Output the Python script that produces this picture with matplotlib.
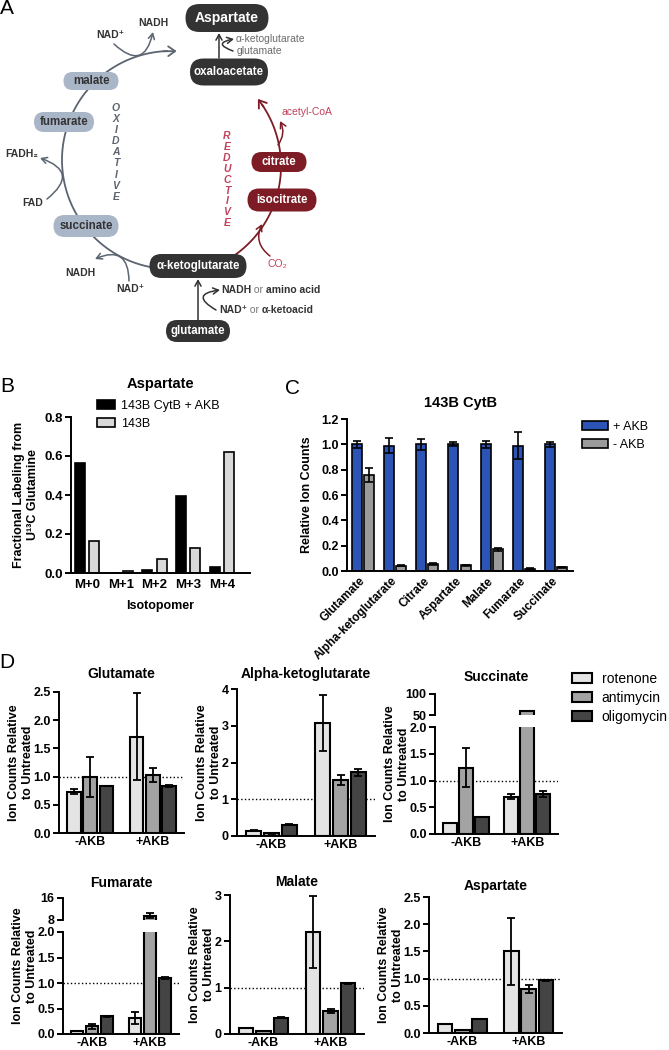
import numpy as np
import matplotlib
matplotlib.use('Agg')
import matplotlib.pyplot as plt
from matplotlib.patches import FancyBboxPatch
from matplotlib.offsetbox import TextArea, HPacker, AnnotationBbox

plt.rcParams['font.family'] = ['Liberation Sans', 'DejaVu Sans']
plt.rcParams['font.weight'] = 'bold'
plt.rcParams['axes.titleweight'] = 'bold'
plt.rcParams['axes.labelweight'] = 'bold'

W, H = 669, 1050

# ---------------- data ----------------
# B: aspartate isotopomers
b_isotopomers = ['M+0', 'M+1', 'M+2', 'M+3', 'M+4']
b_cytb_akb = [0.565, 0.002, 0.015, 0.395, 0.03]
b_143b = [0.165, 0.012, 0.073, 0.13, 0.622]

# C: 143B CytB relative ion counts
c_metabolites = ['Glutamate', 'Alpha-ketoglutarate', 'Citrate', 'Aspartate',
                 'Malate', 'Fumarate', 'Succinate']
c_plus_akb = [1.00, 0.99, 1.00, 1.00, 1.00, 0.99, 1.00]
c_plus_err = [0.03, 0.06, 0.045, 0.015, 0.03, 0.105, 0.02]
c_minus_akb = [0.76, 0.04, 0.055, 0.045, 0.17, 0.018, 0.028]
c_minus_err = [0.055, 0.004, 0.005, 0.005, 0.01, 0.003, 0.003]

# D: rows = rotenone, antimycin, oligomycin ; cols = -AKB, +AKB
d_conditions = ['-AKB', '+AKB']
d_treatments = ['rotenone', 'antimycin', 'oligomycin']
glu_mean = [[0.73, 1.71], [0.99, 1.03], [0.84, 0.83]]
glu_err = [[0.045, 0.77], [0.36, 0.13], [0.0, 0.02]]
akg_mean = [[0.14, 3.07], [0.07, 1.52], [0.31, 1.73]]
akg_err = [[0.01, 0.77], [0.01, 0.14], [0.01, 0.09]]
suc_mean = [[0.21, 0.70], [1.24, 60.0], [0.31, 0.75]]
suc_err = [[0.0, 0.05], [0.37, 0.0], [0.0, 0.05]]
fum_mean = [[0.06, 0.32], [0.15, 9.5], [0.35, 1.10]]
fum_err = [[0.0, 0.12], [0.05, 0.9], [0.01, 0.02]]
mal_mean = [[0.13, 2.20], [0.07, 0.50], [0.35, 1.09]]
mal_err = [[0.0, 0.78], [0.0, 0.05], [0.01, 0.02]]
asp_mean = [[0.16, 1.50], [0.05, 0.81], [0.25, 0.97]]
asp_err = [[0.0, 0.61], [0.0, 0.07], [0.0, 0.01]]

# ---------------- style ----------------
DARK = '#333333'
LIGHT = '#a9b6c7'
RED = '#7d1c24'
PINK = '#c2415b'
SLATE = '#5b6470'
d_colors = ['#e4e4e4', '#a3a3a3', '#444444']

fig = plt.figure(figsize=(W / 100, H / 100), dpi=100)


def px_axes(left, top, right, bottom):
    return fig.add_axes([left / W, 1 - bottom / H,
                         (right - left) / W, (bottom - top) / H])


def style(ax, labelsize=9):
    ax.spines['top'].set_visible(False)
    ax.spines['right'].set_visible(False)
    ax.spines['left'].set_linewidth(1.4)
    ax.spines['bottom'].set_linewidth(1.4)
    ax.tick_params(axis='y', length=4, width=1.4, labelsize=labelsize, pad=2)
    ax.tick_params(axis='x', length=0, labelsize=labelsize, pad=4)


# ---------------- A: pathway diagram ----------------
ax0 = fig.add_axes([0, 0, 1, 1])
ax0.set_xlim(0, W)
ax0.set_ylim(H, 0)
ax0.axis('off')

nodes = [
    ('Aspartate', 227, 18, 83, 28, DARK, 'white', 10),
    ('oxaloacetate', 229, 72, 78, 27, DARK, 'white', 8.3),
    ('malate', 91, 81, 55, 18, LIGHT, DARK, 8.3),
    ('fumarate', 64, 122, 60, 20, LIGHT, DARK, 8.3),
    ('succinate', 86, 226, 65, 22, LIGHT, DARK, 8.3),
    ('\u03b1-ketoglutarate', 198, 266, 97, 24, DARK, 'white', 8.3),
    ('glutamate', 198, 331, 64, 22, DARK, 'white', 8.3),
    ('citrate', 279, 162, 55, 20, RED, 'white', 8.3),
    ('isocitrate', 282, 200, 69, 23, RED, 'white', 8.3),
]
for name, cx, cy, w, h, fc, tc, fs in nodes:
    ax0.add_patch(FancyBboxPatch((cx - w / 2, cy - h / 2), w, h,
                                 boxstyle='round,pad=0,rounding_size=%g' % (h / 2),
                                 fc=fc, ec='none', zorder=3))
    ax0.text(cx, cy, name, ha='center', va='center', color=tc,
             fontsize=fs, fontweight='bold', zorder=4)

# oxidative (grey) and reductive (red) arcs
t = np.radians(np.linspace(98, 268, 120))
ax0.plot(171 + 109 * np.cos(t), 160 + 109 * np.sin(t), color=SLATE, lw=1.3, zorder=2)
a0, a1 = np.radians(266), np.radians(273)
ax0.annotate('', xy=(171 + 109 * np.cos(a1), 160 + 109 * np.sin(a1)),
             xytext=(171 + 109 * np.cos(a0), 160 + 109 * np.sin(a0)),
             arrowprops=dict(arrowstyle='->,head_length=0.5,head_width=0.35',
                             color=SLATE, lw=1.3, shrinkA=0, shrinkB=0,
                             mutation_scale=10))
t = np.radians(np.linspace(57, -34, 100))
ax0.plot(172 + 109 * np.cos(t), 166 + 109 * np.sin(t), color=RED, lw=1.3, zorder=2)
a0, a1 = np.radians(-33), np.radians(-38)
ax0.annotate('', xy=(172 + 109 * np.cos(a1), 166 + 109 * np.sin(a1)),
             xytext=(172 + 109 * np.cos(a0), 166 + 109 * np.sin(a0)),
             arrowprops=dict(arrowstyle='->,head_length=0.5,head_width=0.35',
                             color=RED, lw=1.3, shrinkA=0, shrinkB=0,
                             mutation_scale=10))


def side_arrow(start, end, rad, color):
    ax0.annotate('', xy=end, xytext=start,
                 arrowprops=dict(arrowstyle='->,head_length=0.4,head_width=0.22',
                                 color=color, lw=1.1, shrinkA=0, shrinkB=0,
                                 mutation_scale=10,
                                 connectionstyle='arc3,rad=%g' % rad), zorder=2)


side_arrow((114, 44), (153, 32), 0.87, SLATE)
side_arrow((47, 199), (40, 158), 0.9, SLATE)
side_arrow((129, 281), (95, 259), 0.75, SLATE)
side_arrow((270, 256), (262, 224), -0.4, RED)
side_arrow((278, 145), (280, 121), 0.3, RED)
side_arrow((233, 51), (234, 39), -1.8, DARK)
side_arrow((216, 310), (220, 290), -1.45, DARK)
side_arrow((219, 58), (219, 33), 0, DARK)
side_arrow((198, 320), (198, 279), 0, DARK)

small = dict(fontsize=7.5, fontweight='bold', color=DARK, ha='center', va='center')
ax0.text(153, 23, 'NADH', **small)
ax0.text(110, 35, 'NAD\u207a', **small)
ax0.text(22, 154, 'FADH\u2082', **small)
ax0.text(33, 203, 'FAD', **small)
ax0.text(80, 273, 'NADH', **small)
ax0.text(130, 289, 'NAD\u207a', **small)
ax0.text(236, 39, '\u03b1-ketoglutarate', fontsize=7.5, fontweight='normal',
         color='#6b6b6b', ha='left', va='center')
ax0.text(237, 51, 'glutamate', fontsize=7.5, fontweight='normal',
         color='#6b6b6b', ha='left', va='center')
ax0.text(281, 112, 'acetyl-CoA', fontsize=7.5, fontweight='normal',
         color=PINK, ha='left', va='center')
ax0.text(267, 264, 'CO\u2082', fontsize=7.5, fontweight='normal',
         color=PINK, ha='left', va='center')


def mixed_text(x, y, parts):
    boxes = [TextArea(s, textprops=dict(fontsize=7.5, fontweight=wt, color=c))
             for s, wt, c in parts]
    pack = HPacker(children=boxes, align='baseline', pad=0, sep=0)
    ax0.add_artist(AnnotationBbox(pack, (x, y), xycoords='data',
                                  box_alignment=(0, 0.5), frameon=False, pad=0))


mixed_text(221, 290, [('NADH', 'bold', DARK), (' or ', 'normal', '#777777'),
                      ('amino acid', 'bold', DARK)])
mixed_text(219, 310, [('NAD\u207a', 'bold', DARK), (' or ', 'normal', '#777777'),
                      ('\u03b1-ketoacid', 'bold', DARK)])

for i, ch in enumerate('OXIDATIVE'):
    ax0.text(116, 108 + 11.1 * i, ch, fontsize=7.5, fontweight='bold',
             fontstyle='italic', color=SLATE, ha='center', va='center')
for i, ch in enumerate('REDUCTIVE'):
    ax0.text(227, 136 + 10.9 * i, ch, fontsize=7.5, fontweight='bold',
             fontstyle='italic', color=PINK, ha='center', va='center')

for lab, x, y in [('A', 7, 9), ('B', 7, 386), ('C', 293, 388), ('D', 7, 662)]:
    ax0.text(x, y, lab, fontsize=15, fontweight='normal', ha='center', va='center')

# ---------------- B ----------------
axB = px_axes(71, 417, 250, 573)
style(axB, 9.5)
xb = np.arange(len(b_isotopomers))
axB.bar(xb - 0.21, b_cytb_akb, 0.3, color='black', edgecolor='black', lw=1.2,
        label='143B CytB + AKB')
axB.bar(xb + 0.21, b_143b, 0.3, color='#d9d9d9', edgecolor='black', lw=1.2,
        label='143B')
axB.set_xlim(-0.474, 4.83)
axB.set_ylim(0, 0.8)
axB.set_yticks(np.arange(0, 0.81, 0.2))
axB.set_xticks(xb, b_isotopomers)
axB.set_title('Aspartate', fontsize=10.5, pad=21)
axB.set_xlabel('Isotopomer', fontsize=9, labelpad=7)
axB.set_ylabel('Fractional Labeling from\nU\u00b9\u00b3C Glutamine', fontsize=9)
axB.yaxis.set_label_coords(39 / W, 1 - 495 / H, transform=fig.transFigure)
axB.legend(loc='upper left', bbox_to_anchor=(97 / W, 1 - 400 / H),
           bbox_transform=fig.transFigure, frameon=False, borderpad=0,
           borderaxespad=0, handlelength=1.45, handleheight=0.7,
           handletextpad=0.5, labelspacing=0.45,
           prop={'size': 9, 'weight': 'normal'})

# ---------------- C ----------------
axC = px_axes(347, 419, 573, 571)
style(axC, 9)
xc = np.arange(len(c_metabolites))
axC.bar(xc - 0.19, c_plus_akb, 0.31, yerr=c_plus_err, color='#2b54b6',
        edgecolor='black', lw=1.2, capsize=3,
        error_kw=dict(elinewidth=1.2, capthick=1.2), label='+ AKB')
axC.bar(xc + 0.19, c_minus_akb, 0.31, yerr=c_minus_err, color='#9b9b9b',
        edgecolor='black', lw=1.2, capsize=3,
        error_kw=dict(elinewidth=1.2, capthick=1.2), label='- AKB')
axC.set_xlim(-0.497, 6.53)
axC.set_ylim(0, 1.2)
axC.set_yticks(np.arange(0, 1.21, 0.2))
axC.set_xticks(xc, c_metabolites, rotation=45, ha='right', va='center',
               rotation_mode='anchor', fontsize=8.5)
axC.tick_params(axis='x', pad=6)
axC.set_title('143B CytB', fontsize=10.5, pad=9)
axC.set_ylabel('Relative Ion Counts', fontsize=9)
axC.yaxis.set_label_coords(313 / W, 1 - 495 / H, transform=fig.transFigure)
axC.legend(loc='upper left', bbox_to_anchor=(582 / W, 1 - 421 / H),
           bbox_transform=fig.transFigure, frameon=False, borderpad=0,
           borderaxespad=0, handlelength=2.1, handleheight=0.75,
           handletextpad=0.4, labelspacing=0.45,
           prop={'size': 9, 'weight': 'normal'})

# ---------------- D ----------------
# title, means, errors, main box (l, t, r, b), upper box (t, b, ymin, ymax) or None,
# ymax, ytick step, title y
d_layout = [
    ('Glutamate', glu_mean, glu_err, (59, 692, 184, 833), None, 2.5, 0.5, 673),
    ('Alpha-ketoglutarate', akg_mean, akg_err, (237, 689, 375, 836), None, 4, 1, 673),
    ('Succinate', suc_mean, suc_err, (435, 727, 558, 834), (694, 715, 50, 100), 2.0, 0.5, 676),
    ('Fumarate', fum_mean, fum_err, (63, 932, 179, 1034), (898, 920, 8, 16), 2.0, 0.5, 882),
    ('Malate', mal_mean, mal_err, (230, 895, 364, 1034), None, 3, 1, 881),
    ('Aspartate', asp_mean, asp_err, (429, 897, 562, 1033), None, 2.5, 0.5, 885),
]


def d_bars(ax, mean, err):
    xd = np.arange(len(d_conditions))
    out = []
    for i in range(3):
        out.append(ax.bar(xd + (i - 1) * 0.26, mean[i], 0.22, yerr=err[i],
                          color=d_colors[i], edgecolor='black', lw=1.5,
                          capsize=3.2, error_kw=dict(elinewidth=1.3, capthick=1.3),
                          label=d_treatments[i]))
    ax.set_xlim(-0.5, 1.5)
    return xd


legend_ax = None
for title, mean, err, (l, tp, r, b), upper, ymax, step, title_y in d_layout:
    ax = px_axes(l, tp, r, b)
    style(ax, 9)
    xd = d_bars(ax, mean, err)
    ax.set_ylim(0, ymax)
    ax.set_yticks(np.arange(0, ymax + 1e-9, step))
    ax.set_xticks(xd, d_conditions)
    ax.tick_params(axis='x', pad=2)
    ax.axhline(1.0, color='black', lw=1.0, ls=':', zorder=0.5)
    top_ax, top_px = ax, tp
    if upper is not None:
        ut, ub, ymin2, ymax2 = upper
        axu = px_axes(l, ut, r, ub)
        style(axu, 9)
        d_bars(axu, mean, err)
        axu.spines['bottom'].set_visible(False)
        axu.set_ylim(ymin2, ymax2)
        axu.set_yticks([ymin2, ymax2])
        axu.set_xticks([])
        top_ax, top_px = axu, ut
    top_ax.set_title(title, fontsize=10, pad=(top_px - title_y - 5) * 0.72)
    ax.set_ylabel('Ion Counts Relative\nto Untreated', fontsize=9)
    offset = 25 if step < 1 else 15
    ax.yaxis.set_label_coords((l - offset) / W, 1 - (top_px + b) / 2 / H,
                              transform=fig.transFigure)
    if legend_ax is None:
        legend_ax = ax

legend_ax.legend(loc='upper left', bbox_to_anchor=(572 / W, 1 - 672 / H),
                 bbox_transform=fig.transFigure, frameon=False, borderpad=0,
                 borderaxespad=0, handlelength=1.45, handleheight=0.7,
                 handletextpad=0.7, labelspacing=0.35,
                 prop={'size': 10, 'weight': 'normal'})

fig.savefig('out.png', dpi=100)
